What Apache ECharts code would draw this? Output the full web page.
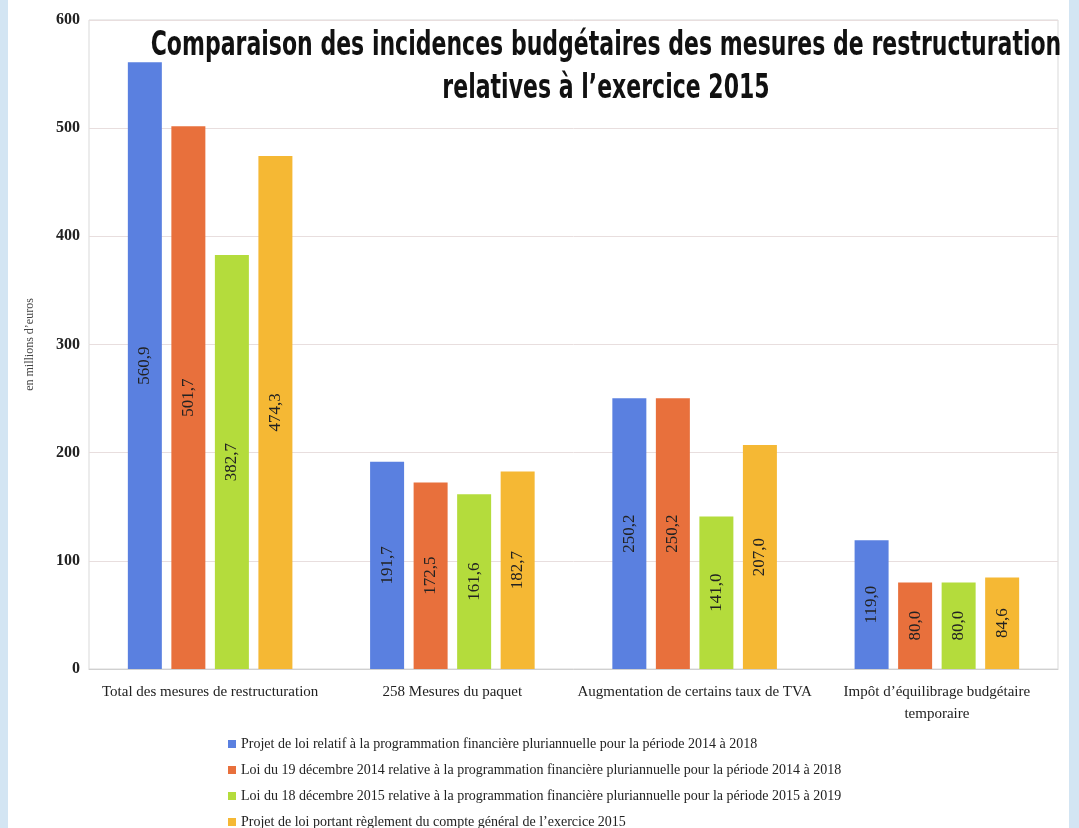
<!DOCTYPE html>
<html><head><meta charset="utf-8">
<script src="https://cdn.jsdelivr.net/npm/echarts@6/dist/echarts.min.js"></script>
<style>
html,body{margin:0;padding:0;}
body{background:linear-gradient(to right,#d3e5f3 0,#d3e5f3 8px,#ffffff 8px,#ffffff 1069px,#d3e5f3 1069px);}
#c{width:1079px;height:828px;}
</style></head><body>
<div id="c"></div>
<script>
const categories = ["Total des mesures de restructuration","258 Mesures du paquet","Augmentation de certains taux de TVA","Impôt d’équilibrage budgétaire\ntemporaire"];
const seriesNames = [
 "Projet de loi relatif à la programmation financière pluriannuelle pour la période 2014 à 2018",
 "Loi du 19 décembre 2014 relative à la programmation financière pluriannuelle pour la période 2014 à 2018",
 "Loi du 18 décembre 2015 relative à la programmation financière pluriannuelle pour la période 2015 à 2019",
 "Projet de loi portant règlement du compte général de l’exercice 2015"
];
const projetLoi2014 = [560.9, 191.7, 250.2, 119.0];
const loi19dec2014 = [501.7, 172.5, 250.2, 80.0];
const loi18dec2015 = [382.7, 161.6, 141.0, 80.0];
const reglement2015 = [474.3, 182.7, 207.0, 84.6];
const yTicks = [0, 100, 200, 300, 400, 500, 600];
const titleLines = ["Comparaison des incidences budgétaires des mesures de restructuration", "relatives à l’exercice 2015"];
const yAxisName = "en millions d’euros";

const colors = ["#5a80e0", "#e8703c", "#b4dc3c", "#f5b834"];
const serif = "'Liberation Serif','DejaVu Serif',serif";
const allData = [projetLoi2014, loi19dec2014, loi18dec2015, reglement2015];
const titleFont = "bold 34px 'DejaVu Sans Condensed','DejaVu Sans',sans-serif";

const chart = echarts.init(document.getElementById('c'), null, {renderer:'canvas'});
chart.setOption({
  backgroundColor: 'transparent',
  animation: false,
  color: colors,
  graphic: titleLines.map((t, i) => ({
    type: 'text', x: 606, y: 46 + i * 43, scaleX: 0.72, originX: 0, z: 100,
    style: {text: t, font: titleFont, fill: '#111', textAlign: 'center', textVerticalAlign: 'middle'}
  })),
  grid: {left: 89, right: 21, top: 20, bottom: 159, show: true, borderColor: '#d9d9d9', borderWidth: 1},
  legend: {
    orient: 'vertical', left: 228, top: 737, height: 120, padding: 0,
    itemWidth: 8, itemHeight: 8, itemGap: 12, icon: 'rect',
    textStyle: {fontFamily: serif, fontSize: 14, lineHeight: 14, color: '#222'},
    data: seriesNames
  },
  xAxis: {
    type: 'category', data: categories,
    axisTick: {show: false},
    axisLine: {lineStyle: {color: '#d0d0d0'}},
    axisLabel: {fontFamily: serif, fontSize: 15, color: '#222', margin: 12, lineHeight: 22, interval: 0}
  },
  yAxis: {
    type: 'value', min: yTicks[0], max: yTicks[yTicks.length-1], interval: 100,
    name: yAxisName, nameLocation: 'middle', nameGap: 53, nameRotate: 90,
    nameTextStyle: {fontFamily: serif, fontSize: 12, color: '#444'},
    axisLabel: {fontFamily: serif, fontSize: 16, fontWeight: 'bold', color: '#222', margin: 9},
    splitLine: {lineStyle: {color: '#e8dede'}}
  },
  series: allData.map((d, i) => ({
    name: seriesNames[i], type: 'bar', data: d,
    barWidth: 34, barGap: '28%',
    itemStyle: {color: colors[i]},
    label: {
      show: true, position: 'inside', rotate: 90,
      fontFamily: serif, fontSize: 17, color: '#222',
      formatter: p => p.value.toFixed(1).replace('.', ',')
    }
  }))
});
</script>
</body></html>
